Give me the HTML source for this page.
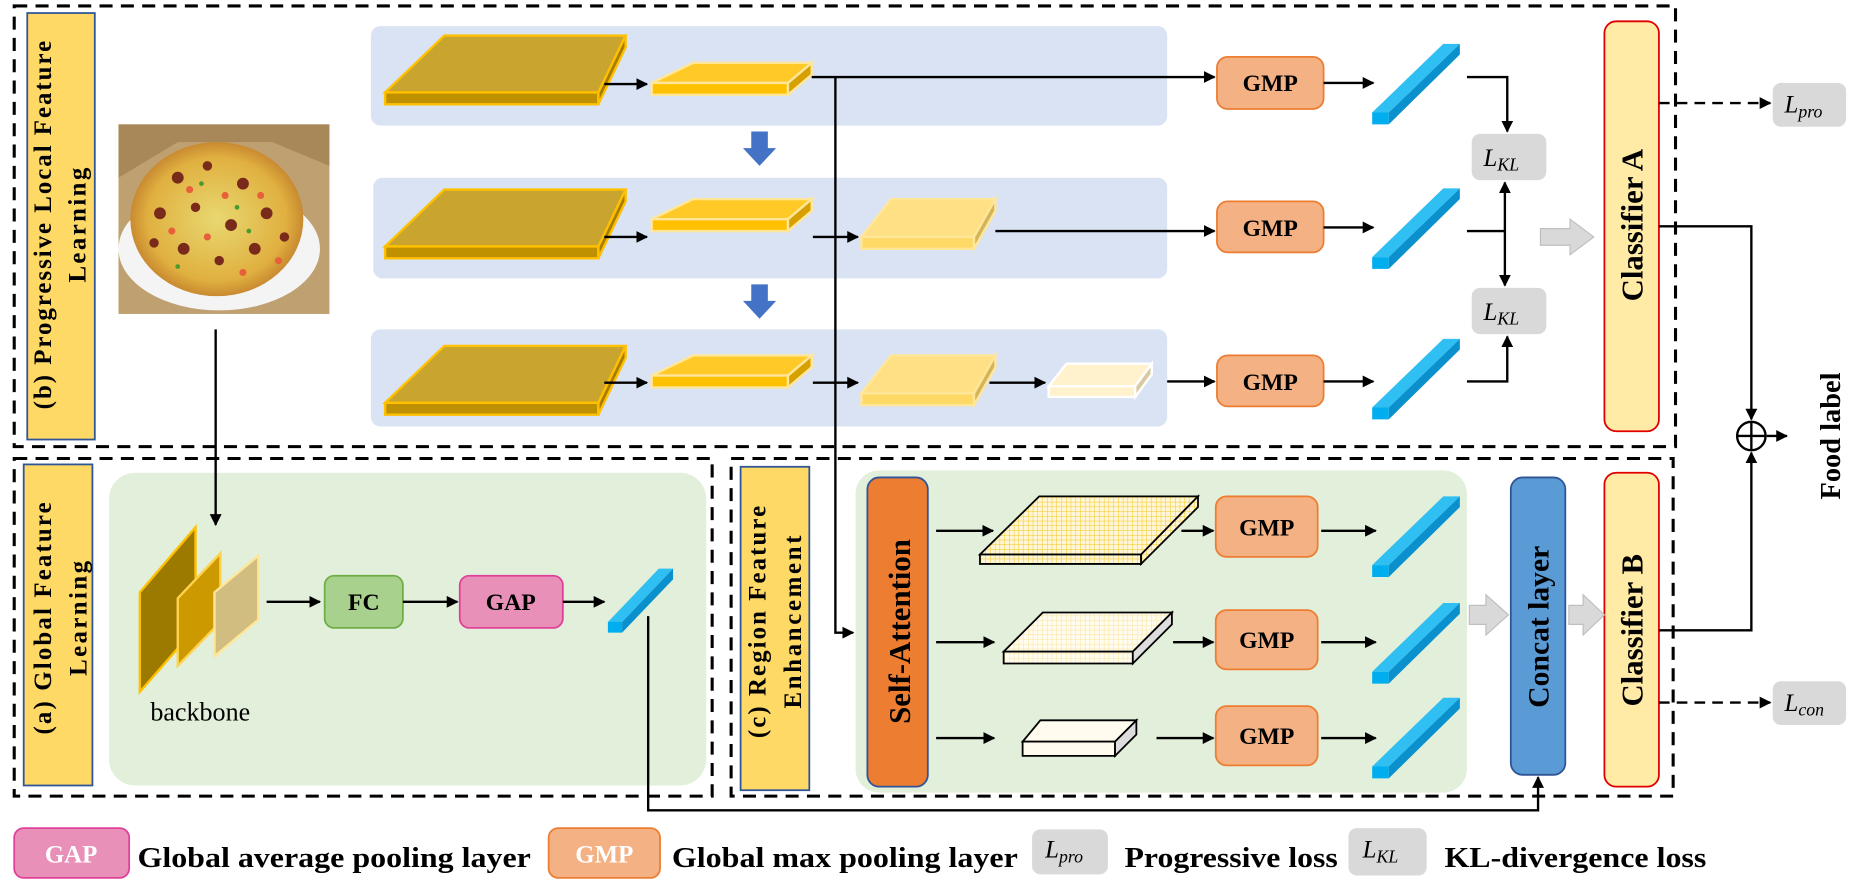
<!DOCTYPE html>
<html><head><meta charset="utf-8"><style>
html,body{margin:0;padding:0;background:#fff;}
svg{display:block;}
text{font-family:"Liberation Serif",serif;font-weight:bold;}
</style></head><body>
<svg width="1858" height="885" viewBox="0 0 1568 747" preserveAspectRatio="none" xmlns="http://www.w3.org/2000/svg">
<defs>
<marker id="ah" markerWidth="10" markerHeight="10" refX="9" refY="5" orient="auto" markerUnits="userSpaceOnUse"><path d="M0,0 L10,5 L0,10 z" fill="#000"/></marker>
<pattern id="grid" width="4" height="4" patternUnits="userSpaceOnUse"><rect width="4" height="4" fill="#fff6d8"/><path d="M4,0V4M0,4H4" stroke="#f5c518" stroke-width="0.8"/></pattern>
<pattern id="grid2" width="4" height="4" patternUnits="userSpaceOnUse"><rect width="4" height="4" fill="#fffbee"/><path d="M4,0V4M0,4H4" stroke="#f7dc80" stroke-width="0.6"/></pattern>
<radialGradient id="pz" cx="50%" cy="50%" r="50%"><stop offset="0" stop-color="#e8d870"/><stop offset="0.8" stop-color="#e0b040"/><stop offset="1" stop-color="#c98a30"/></radialGradient>
<g id="bar">
<path d="M1158,95L1218,37H1232L1172,95z" fill="#2fbff2"/>
<path d="M1158,95H1172V105H1158z" fill="#00aeef"/>
<path d="M1172,95L1232,37V46L1172,105z" fill="#0a90cc"/>
</g>
</defs>

<g fill="none" stroke="#000" stroke-width="2.6" stroke-dasharray="11,7">
<rect x="12" y="5" width="1402" height="372"/>
<rect x="12" y="387" width="589" height="285"/>
<rect x="617" y="387" width="795" height="285"/>
</g>

<rect x="23" y="11" width="57" height="360" fill="#ffd966" stroke="#2f5597" stroke-width="1.5"/>
<text transform="translate(43,190) rotate(-90)" font-size="21" text-anchor="middle" textLength="311" lengthAdjust="spacing">(b) Progressive Local Feature</text>
<text transform="translate(72,190) rotate(-90)" font-size="21" text-anchor="middle" textLength="97" lengthAdjust="spacing">Learning</text>
<rect x="20" y="392" width="58" height="271" fill="#ffd966" stroke="#2f5597" stroke-width="1.5"/>
<text transform="translate(43,522) rotate(-90)" font-size="21" text-anchor="middle" textLength="196" lengthAdjust="spacing">(a) Global Feature</text>
<text transform="translate(73,522) rotate(-90)" font-size="21" text-anchor="middle" textLength="97" lengthAdjust="spacing">Learning</text>
<rect x="625" y="394" width="58" height="273" fill="#ffd966" stroke="#2f5597" stroke-width="1.5"/>
<text transform="translate(646,525) rotate(-90)" font-size="21" text-anchor="middle" textLength="196" lengthAdjust="spacing">(c) Region Feature</text>
<text transform="translate(676,525) rotate(-90)" font-size="21" text-anchor="middle" textLength="146" lengthAdjust="spacing">Enhancement</text>

<rect x="313" y="22" width="672" height="84" rx="8" fill="#dae3f3"/>
<rect x="315" y="150" width="670" height="85" rx="8" fill="#dae3f3"/>
<rect x="313" y="278" width="672" height="82" rx="8" fill="#dae3f3"/>
<rect x="92" y="399" width="504" height="264" rx="22" fill="#e2efda"/>
<rect x="722" y="397" width="516" height="272" rx="20" fill="#e2efda"/>

<path d="M634,111h14v14h7l-14,15l-14,-15h7z" fill="#4472c4"/>
<path d="M634,240h14v14h7l-14,15l-14,-15h7z" fill="#4472c4"/>

<g stroke-width="2">
<g id="big">
<path d="M375,30H528L505,78H325z" fill="#c9a52f" stroke="#ffc000"/>
<path d="M325,78H505V88H325z" fill="#bf9000" stroke="#ffc000"/>
<path d="M505,78L528,30V40L505,88z" fill="#a87c00" stroke="#ffc000"/>
</g>
<use href="#big" y="130"/>
<use href="#big" y="262"/>
<g id="sm">
<path d="M585,53H685L665,70H550z" fill="#ffca28" stroke="#ffe699"/>
<path d="M550,70H665V80H550z" fill="#ffc000" stroke="#ffe699"/>
<path d="M665,70L685,53V63L665,80z" fill="#d6a000" stroke="#ffe699"/>
</g>
<use href="#sm" y="115"/>
<use href="#sm" y="247"/>
<g id="lt">
<path d="M752,168H840L822,200H727z" fill="#ffe085" stroke="#ffe699"/>
<path d="M727,200H822V210H727z" fill="#ffd966" stroke="#ffe699"/>
<path d="M822,200L840,168V178L822,210z" fill="#d4b45a" stroke="#ffe699"/>
</g>
<use href="#lt" y="132"/>
<path d="M900,307H972L958,326H885z" fill="#fff2cc" stroke="#fff"/>
<path d="M885,326H958V335H885z" fill="#fff2cc" stroke="#fff"/>
<path d="M958,326L972,307V316L958,335z" fill="#d8c9a0" stroke="#fff"/>
</g>

<g stroke="#000" stroke-width="1.5">
<path d="M877,419H1011L963,468H827z" fill="url(#grid)"/>
<path d="M827,468H963V476H827z" fill="url(#grid)"/>
<path d="M963,468L1011,419V428L963,476z" fill="url(#grid)"/>
<path d="M880,517H989L956,550H847z" fill="url(#grid2)"/>
<path d="M847,550H956V560H847z" fill="url(#grid2)"/>
<path d="M956,550L989,517V527L956,560z" fill="#ddd"/>
<path d="M878,608H959L941,626H863z" fill="#fffbee"/>
<path d="M863,626H941V638H863z" fill="#fffbee"/>
<path d="M941,626L959,608V620L941,638z" fill="#ddd"/>
</g>

<rect x="100" y="105" width="178" height="160" fill="#bfa070"/>
<path d="M100,105H278V140L230,120H150L100,150z" fill="#a88858"/>
<ellipse cx="185" cy="210" rx="85" ry="52" fill="#f4f4f4"/>
<ellipse cx="183" cy="185" rx="73" ry="65" fill="url(#pz)"/>
<g fill="#7a2a1a">
<circle cx="150" cy="150" r="5"/><circle cx="175" cy="140" r="4"/><circle cx="205" cy="155" r="5"/><circle cx="135" cy="180" r="5"/><circle cx="165" cy="175" r="4"/><circle cx="195" cy="190" r="5"/><circle cx="225" cy="180" r="5"/><circle cx="155" cy="210" r="5"/><circle cx="185" cy="220" r="4"/><circle cx="215" cy="210" r="5"/><circle cx="240" cy="200" r="4"/><circle cx="130" cy="205" r="4"/></g>
<g fill="#e8603a"><circle cx="160" cy="160" r="3"/><circle cx="190" cy="165" r="3"/><circle cx="220" cy="165" r="3"/><circle cx="145" cy="195" r="3"/><circle cx="175" cy="200" r="3"/><circle cx="205" cy="230" r="3"/><circle cx="235" cy="220" r="3"/></g>
<g fill="#4a9a30"><circle cx="170" cy="155" r="2"/><circle cx="200" cy="175" r="2"/><circle cx="150" cy="225" r="2"/><circle cx="210" cy="195" r="2"/></g>

<path d="M118,500L165,445V530L118,584z" fill="#9c7a00" stroke="#ffc000" stroke-width="2"/>
<path d="M150,505L186,467V525L150,562z" fill="#cc9a00" stroke="#ffd24d" stroke-width="2"/>
<path d="M181,500L218,469V523L181,554z" fill="#d2bd80" stroke="#ffe699" stroke-width="2"/>
<text x="169" y="608" font-size="22" style="font-weight:normal" text-anchor="middle">backbone</text>

<g font-size="20">
<rect x="274" y="486" width="66" height="44" rx="8" fill="#a9d18e" stroke="#70ad47" stroke-width="1.5"/>
<text x="307" y="515" text-anchor="middle">FC</text>
<rect x="388" y="486" width="87" height="44" rx="8" fill="#e890b8" stroke="#e0409a" stroke-width="1.5"/>
<text x="431" y="515" text-anchor="middle">GAP</text>
<g fill="#f4b183" stroke="#ed7d31" stroke-width="1.5">
<rect x="1027" y="48" width="90" height="44" rx="9"/>
<rect x="1027" y="170" width="90" height="43" rx="9"/>
<rect x="1027" y="300" width="90" height="43" rx="9"/>
<rect x="1026" y="419" width="86" height="51" rx="9"/>
<rect x="1026" y="515" width="86" height="50" rx="9"/>
<rect x="1026" y="596" width="86" height="50" rx="9"/>
</g>
<text x="1072" y="77" text-anchor="middle">GMP</text>
<text x="1072" y="199" text-anchor="middle">GMP</text>
<text x="1072" y="329" text-anchor="middle">GMP</text>
<text x="1069" y="452" text-anchor="middle">GMP</text>
<text x="1069" y="547" text-anchor="middle">GMP</text>
<text x="1069" y="628" text-anchor="middle">GMP</text>
</g>

<use href="#bar"/>
<use href="#bar" y="122"/>
<use href="#bar" y="249"/>
<use href="#bar" y="382"/>
<use href="#bar" y="472"/>
<use href="#bar" y="552"/>
<path d="M513,525L556,480H568L525,525z" fill="#2fbff2"/>
<path d="M513,525H525V534H513z" fill="#00aeef"/>
<path d="M525,525L568,480V489L525,534z" fill="#0a90cc"/>

<rect x="732" y="403" width="51" height="261" rx="10" fill="#ed7d31" stroke="#2f5597" stroke-width="1.5"/>
<text transform="translate(768,533) rotate(-90)" font-size="26" text-anchor="middle">Self-Attention</text>
<rect x="1275" y="403" width="46" height="251" rx="10" fill="#5b9bd5" stroke="#2f5597" stroke-width="1.5"/>
<text transform="translate(1307,529) rotate(-90)" font-size="25" text-anchor="middle">Concat layer</text>
<rect x="1354" y="18" width="46" height="346" rx="10" fill="#ffeaa6" stroke="#e00000" stroke-width="1.5"/>
<text transform="translate(1386,190) rotate(-90)" font-size="26" text-anchor="middle">Classifier A</text>
<rect x="1354" y="399" width="46" height="265" rx="10" fill="#ffeaa6" stroke="#e00000" stroke-width="1.5"/>
<text transform="translate(1386,532) rotate(-90)" font-size="26" text-anchor="middle">Classifier B</text>

<g fill="#d9d9d9">
<rect x="1242" y="113" width="63" height="39" rx="7"/>
<rect x="1242" y="243" width="63" height="39" rx="7"/>
<rect x="1496" y="70" width="62" height="37" rx="7"/>
<rect x="1496" y="575" width="62" height="37" rx="7"/>
</g>
<g font-size="21" font-style="italic">
<text x="1252" y="140" style="font-weight:normal">L<tspan font-size="15" dy="4">KL</tspan></text>
<text x="1252" y="270" style="font-weight:normal">L<tspan font-size="15" dy="4">KL</tspan></text>
<text x="1506" y="95" style="font-weight:normal">L<tspan font-size="15" dy="4">pro</tspan></text>
<text x="1506" y="600" style="font-weight:normal">L<tspan font-size="15" dy="4">con</tspan></text>
</g>

<g fill="#d9d9d9" stroke="#bfbfbf">
<path d="M1300,193h25v-8l20,15l-20,15v-8h-25z"/>
<path d="M1240,511h14v-9l19,17l-19,17v-9h-14z"/>
<path d="M1324,511h12v-9l18,17l-18,17v-9h-12z"/>
</g>

<g stroke="#000" stroke-width="2" fill="none">
<path d="M510,71H546" marker-end="url(#ah)"/>
<path d="M685,65H1025" marker-end="url(#ah)"/>
<path d="M705,65V534H720" marker-end="url(#ah)"/>
<path d="M510,200H546" marker-end="url(#ah)"/>
<path d="M686,200H724" marker-end="url(#ah)"/>
<path d="M840,195H1025" marker-end="url(#ah)"/>
<path d="M510,323H546" marker-end="url(#ah)"/>
<path d="M686,323H724" marker-end="url(#ah)"/>
<path d="M835,323H882" marker-end="url(#ah)"/>
<path d="M985,322H1025" marker-end="url(#ah)"/>
<path d="M1117,70H1159" marker-end="url(#ah)"/>
<path d="M1117,192H1159" marker-end="url(#ah)"/>
<path d="M1117,322H1159" marker-end="url(#ah)"/>
<path d="M1115,448H1161" marker-end="url(#ah)"/>
<path d="M1115,542H1161" marker-end="url(#ah)"/>
<path d="M1115,623H1161" marker-end="url(#ah)"/>
<path d="M1238,65H1272V111" marker-end="url(#ah)"/>
<path d="M1238,195H1270"/>
<path d="M1270,195V154" marker-end="url(#ah)"/>
<path d="M1270,195V241" marker-end="url(#ah)"/>
<path d="M1238,322H1272V284" marker-end="url(#ah)"/>
<path d="M182,278V443" marker-end="url(#ah)"/>
<path d="M225,508H270" marker-end="url(#ah)"/>
<path d="M340,508H386" marker-end="url(#ah)"/>
<path d="M475,508H510" marker-end="url(#ah)"/>
<path d="M547,520V684H1298V656" marker-end="url(#ah)"/>
<path d="M790,448H838" marker-end="url(#ah)"/>
<path d="M790,542H839" marker-end="url(#ah)"/>
<path d="M790,623H839" marker-end="url(#ah)"/>
<path d="M997,448H1024" marker-end="url(#ah)"/>
<path d="M990,542H1024" marker-end="url(#ah)"/>
<path d="M976,623H1024" marker-end="url(#ah)"/>
<path d="M1400,191H1478V354" marker-end="url(#ah)"/>
<path d="M1400,532H1478V382" marker-end="url(#ah)"/>
<path d="M1491,368H1508" marker-end="url(#ah)"/>
<path d="M1400,87H1494" stroke-dasharray="9,6" marker-end="url(#ah)"/>
<path d="M1400,593H1494" stroke-dasharray="9,6" marker-end="url(#ah)"/>
<circle cx="1478" cy="368" r="12"/>
<path d="M1466,368H1490M1478,356V380"/>
</g>
<text transform="translate(1553,368) rotate(-90)" font-size="24" text-anchor="middle">Food label</text>

<rect x="12" y="699" width="97" height="42" rx="8" fill="#e890b8" stroke="#e0409a" stroke-width="1.5"/>
<text x="60" y="728" font-size="21" fill="#fff" text-anchor="middle">GAP</text>
<text x="116" y="732" font-size="24" textLength="332" lengthAdjust="spacingAndGlyphs">Global average pooling layer</text>
<rect x="463" y="699" width="94" height="42" rx="8" fill="#f4b183" stroke="#ed7d31" stroke-width="1.5"/>
<text x="510" y="728" font-size="21" fill="#fff" text-anchor="middle">GMP</text>
<text x="567" y="732" font-size="24" textLength="292" lengthAdjust="spacingAndGlyphs">Global max pooling layer</text>
<rect x="871" y="700" width="64" height="38" rx="7" fill="#d9d9d9"/>
<text x="882" y="724" font-size="21" font-style="italic" style="font-weight:normal">L<tspan font-size="15" dy="4">pro</tspan></text>
<text x="949" y="732" font-size="24" textLength="180" lengthAdjust="spacingAndGlyphs">Progressive loss</text>
<rect x="1138" y="699" width="66" height="40" rx="7" fill="#d9d9d9"/>
<text x="1150" y="724" font-size="21" font-style="italic" style="font-weight:normal">L<tspan font-size="15" dy="4">KL</tspan></text>
<text x="1219" y="732" font-size="24" textLength="221" lengthAdjust="spacingAndGlyphs">KL-divergence loss</text>
</svg>
</body></html>
